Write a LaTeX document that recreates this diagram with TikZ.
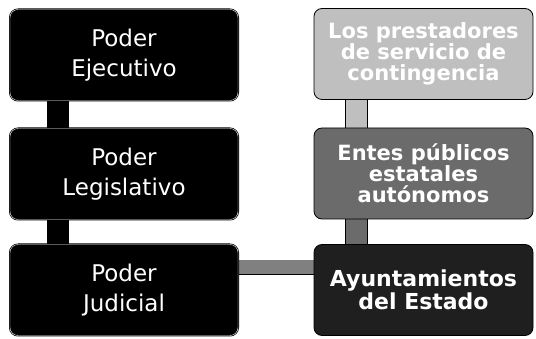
\documentclass[tikz,border=0pt]{standalone}
\usepackage{fontspec}
\setmainfont{DejaVu Sans}
\usetikzlibrary{backgrounds}
\tikzset{
  lbox/.style={draw=black, line width=0.8pt, double=white, double distance=0.4pt,
    fill=black, text=white, rounded corners=8pt, align=center,
    minimum width=228pt, minimum height=91pt, inner sep=0pt,
    font=\fontsize{23}{30}\selectfont},
  rbox/.style={draw=black, line width=0.8pt, fill=#1, text=white, rounded corners=8pt,
    align=center, minimum width=219pt, minimum height=91pt, inner sep=0pt,
    font=\bfseries\fontsize{21}{21}\selectfont},
  conn/.style={draw=black, line width=0.8pt, double=#1, double distance=21pt}
}
\begin{document}
\begin{tikzpicture}[x=1pt, y=-1pt]
            \useasboundingbox (0,0) rectangle (536,339);

            \node[lbox] (ej) at (124, 55) {Poder\\Ejecutivo};
            \node[lbox] (le) at (124, 174) {Poder\\Legislativo};
            \node[lbox] (ju) at (124, 290) {Poder\\Judicial};

            \node[rbox=black!25] (pr) at (423.5, 54) {Los prestadores\\de servicio de\\contingencia};
            \node[rbox=black!58] (en) at (423.5, 173.5) {Entes públicos\\estatales\\autónomos};
            \node[rbox=black!88, font=\bfseries\fontsize{22}{19}\selectfont] (ay) at (423.5, 290) {Ayuntamientos\\del Estado};

            \begin{pgfonlayer}{background}
            \draw[conn=black] ([xshift=48.5pt]ej.south west) -- ([xshift=48.5pt]le.north west);
            \draw[conn=black] ([xshift=48.5pt]le.south west) -- ([xshift=48.5pt]ju.north west);
            \draw[conn=black!25] ([xshift=43pt]pr.south west) -- ([xshift=43pt]en.north west);
            \draw[conn=black!58] ([xshift=43pt]en.south west) -- ([xshift=43pt]ay.north west);
            \draw[conn=black!50, double distance=14pt] ([yshift=22.5pt]ju.east) -- ([yshift=22.5pt]ay.west);
            \end{pgfonlayer}
        \end{tikzpicture}
\end{document}
